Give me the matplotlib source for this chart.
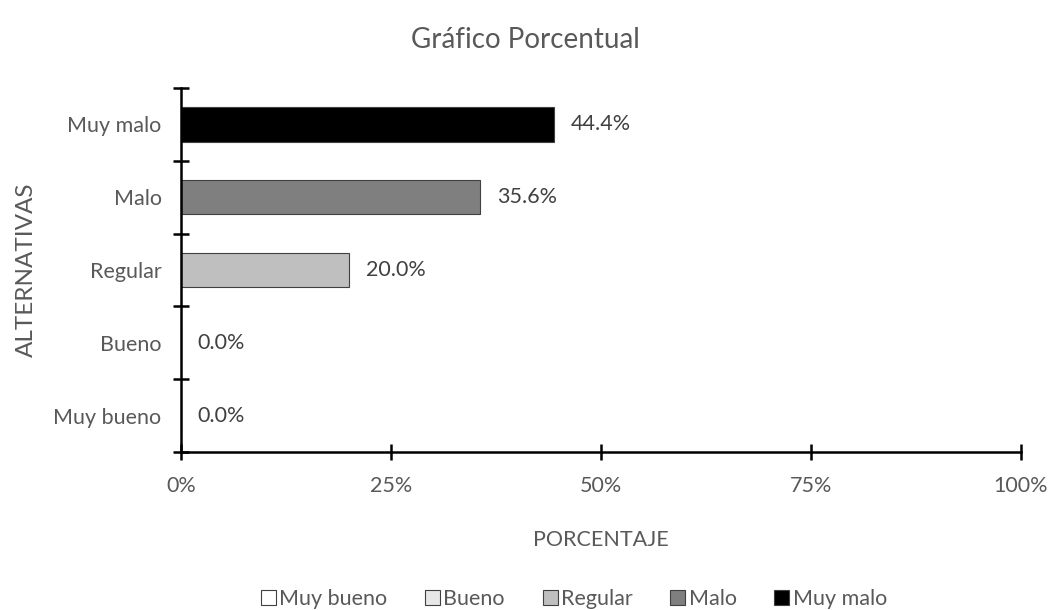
import matplotlib
matplotlib.use("Agg")
import matplotlib.pyplot as plt
from matplotlib.patches import Patch

plt.rcParams['font.family'] = ['Lato', 'DejaVu Sans']

categories = ["Muy bueno", "Bueno", "Regular", "Malo", "Muy malo"]
values = [0.0, 0.0, 20.0, 35.6, 44.4]
colors = ["#FFFFFF", "#E7E7E7", "#BFBFBF", "#7F7F7F", "#000000"]
xticks = [0, 25, 50, 75, 100]
xtick_labels = ["0%", "25%", "50%", "75%", "100%"]

text_color = "#595959"
fs = 15.5

fig = plt.figure(figsize=(10.51, 6.10), dpi=100)
ax = fig.add_axes([181 / 1051, 1 - 452 / 610, 840 / 1051, 364 / 610])

ypos = list(range(len(categories)))
ax.barh(ypos, values, height=0.47, color=colors, edgecolor="#404040", linewidth=0.8)

for y, v in zip(ypos, values):
    ax.annotate(f"{v:.1f}%", xy=(v, y), xytext=(12, 0), textcoords="offset points",
                va="center", ha="left", fontsize=fs, color="#404040")

ax.set_xlim(0, 100)
ax.set_ylim(-0.5, len(categories) - 0.5)

ax.set_xticks(xticks)
ax.set_xticklabels(xtick_labels, fontsize=fs, color=text_color)
ax.set_yticks(ypos)
ax.set_yticklabels(categories, fontsize=fs, color=text_color)
ax.tick_params(axis="y", length=0, pad=14)
ax.set_yticks([i - 0.5 for i in range(len(categories) + 1)], minor=True)
ax.tick_params(axis="y", which="minor", direction="inout", length=12, width=1.8, color="black")
ax.tick_params(axis="x", direction="inout", length=12, width=1.8, color="black", pad=11)

for s in ["top", "right"]:
    ax.spines[s].set_visible(False)
ax.spines["left"].set_linewidth(1.8)
ax.spines["bottom"].set_linewidth(1.8)

ax.set_xlabel("PORCENTAJE", fontsize=fs, color=text_color, labelpad=25)
ax.set_ylabel("ALTERNATIVAS", fontsize=17.5, color=text_color, labelpad=12)

fig.suptitle("Gráfico Porcentual", fontsize=20, color=text_color, y=0.955)

handles = [Patch(facecolor=c, edgecolor="#404040", linewidth=0.8) for c in colors]
fig.legend(handles, categories, loc="center", ncol=5, frameon=False,
           bbox_to_anchor=(574 / 1051, 1 - 599 / 610), fontsize=fs, labelcolor=text_color,
           handlelength=0.7, handleheight=0.7, handletextpad=0.15, columnspacing=1.75)

fig.savefig("out.png", dpi=100)
